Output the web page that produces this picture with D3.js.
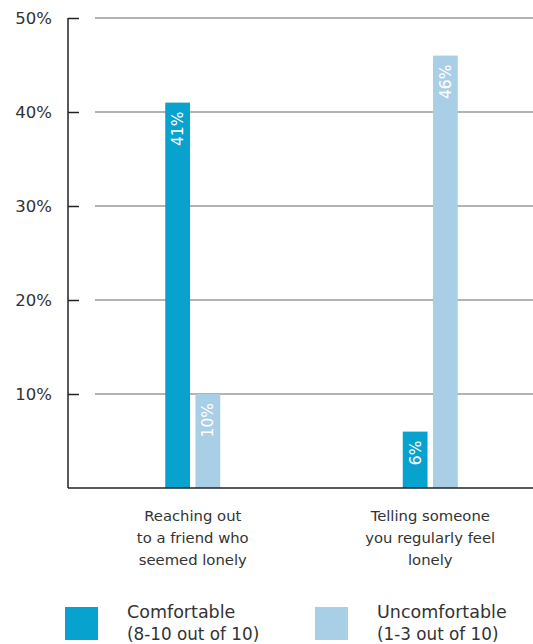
<!DOCTYPE html>
<html>
<head>
<meta charset="utf-8">
<script src="https://cdn.jsdelivr.net/npm/d3@7"></script>
<style>
  html, body { margin: 0; padding: 0; background: #fff; }
  svg { display: block; }
  text { font-family: "DejaVu Sans", sans-serif; }
</style>
</head>
<body>
<svg id="chart" width="533" height="644"></svg>
<script>
const categories = [
  ["Reaching out", "to a friend who", "seemed lonely"],
  ["Telling someone", "you regularly feel", "lonely"]
];
const categoryKeys = ["reach", "tell"];
const seriesNames = ["Comfortable", "Uncomfortable"];
const seriesSub = ["(8-10 out of 10)", "(1-3 out of 10)"];
const comfortable = [41, 6];
const uncomfortable = [10, 46];
const yTicks = [10, 20, 30, 40, 50];
const colors = ["#08a2cf", "#a8cfe6"];

const svg = d3.select("#chart");
const y = d3.scaleLinear().domain([0, 50]).range([488, 18]);
const x0 = d3.scaleBand().domain(categoryKeys).range([74, 549]);
const x1 = d3.scaleBand().domain(seriesNames).range([-27.5, 27.5]).paddingInner(0.18);

// gridlines
svg.append("g").selectAll("line").data(yTicks).join("line")
  .attr("x1", 95).attr("x2", 533)
  .attr("y1", d => y(d)).attr("y2", d => y(d))
  .attr("stroke", "#9a9a9a").attr("stroke-width", 1.3);

// y axis
const yAxis = d3.axisLeft(y).tickValues(yTicks).tickSize(-11).tickPadding(16)
  .tickFormat(d => d + "%");
const gy = svg.append("g").attr("transform", "translate(68,0)").call(yAxis);
gy.select(".domain").remove();
gy.selectAll(".tick line").attr("stroke", "#222").attr("stroke-width", 1.5);
gy.selectAll(".tick text").attr("font-size", 16.5).attr("fill", "#333")
  .attr("font-family", "'DejaVu Sans', sans-serif");
svg.append("line").attr("x1", 68).attr("x2", 68).attr("y1", y(50)).attr("y2", y(0))
  .attr("stroke", "#222").attr("stroke-width", 1.5);

// bars
const rows = categoryKeys.map((k, i) => ({ key: k, values: [
  { s: seriesNames[0], v: comfortable[i], c: colors[0] },
  { s: seriesNames[1], v: uncomfortable[i], c: colors[1] }
]}));
const groups = svg.append("g").selectAll("g").data(rows).join("g")
  .attr("transform", d => `translate(${x0(d.key) + x0.bandwidth() / 2},0)`);
groups.selectAll("rect").data(d => d.values).join("rect")
  .attr("x", d => x1(d.s)).attr("width", x1.bandwidth())
  .attr("y", d => y(d.v)).attr("height", d => y(0) - y(d.v))
  .attr("fill", d => d.c);
groups.selectAll("text.val").data(d => d.values).join("text")
  .attr("class", "val")
  .attr("transform", d => `translate(${x1(d.s) + x1.bandwidth() / 2 + 5.5},${y(d.v) + 9}) rotate(-90)`)
  .attr("text-anchor", "end")
  .attr("font-size", 15.5).attr("fill", "#fff")
  .text(d => d.v + "%");

// x axis line
svg.append("line").attr("x1", 68).attr("x2", 533).attr("y1", y(0)).attr("y2", y(0))
  .attr("stroke", "#222").attr("stroke-width", 1.5);

// category labels
categoryKeys.forEach((k, i) => {
  const t = svg.append("text")
    .attr("x", x0(k) + x0.bandwidth() / 2)
    .attr("text-anchor", "middle").attr("font-size", 14.8).attr("fill", "#333");
  categories[i].forEach((line, j) => {
    t.append("tspan").attr("x", x0(k) + x0.bandwidth() / 2).attr("y", 521 + j * 22).text(line);
  });
});

// legend
const legendX = [65, 315];
seriesNames.forEach((s, i) => {
  svg.append("rect").attr("x", legendX[i]).attr("y", 607).attr("width", 33).attr("height", 33)
    .attr("fill", colors[i]);
  svg.append("text").attr("x", legendX[i] + 62).attr("y", 618)
    .attr("font-size", 17.5).attr("fill", "#333").text(s);
  svg.append("text").attr("x", legendX[i] + 62).attr("y", 640)
    .attr("font-size", 16.8).attr("fill", "#333").text(seriesSub[i]);
});
</script>
</body>
</html>
